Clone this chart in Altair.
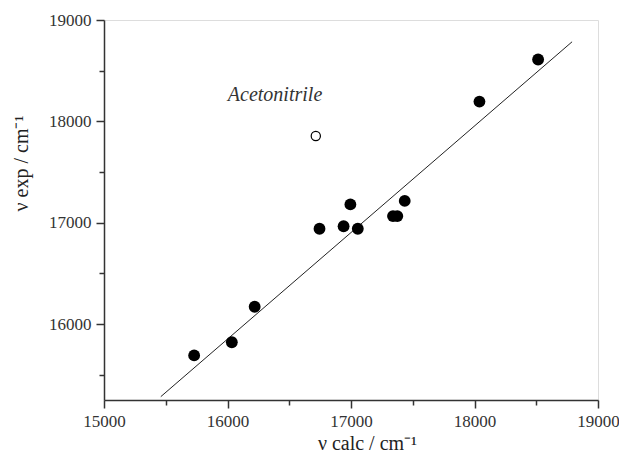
import altair as alt
import pandas as pd

# Filled points: calculated vs experimental wavenumbers
calc = [15730, 16035, 16220, 16745, 16940, 16995, 17055, 17340, 17375, 17435, 18040, 18515]
expv = [15690, 15820, 16170, 16940, 16965, 17180, 16940, 17065, 17065, 17215, 18195, 18610]

# Outlier (open circle)
acn_calc = [16715]
acn_exp = [17855]

# Fit line endpoints
fit_x = [15460, 18790]
fit_y = [15283, 18785]

label_text = ["Acetonitrile"]
label_x = [16385]
label_y = [18258]

x_ticks = [15000, 15500, 16000, 16500, 17000, 17500, 18000, 18500, 19000]
y_ticks = [15500, 16000, 16500, 17000, 17500, 18000, 18500, 19000]

FONT = "Liberation Serif"
AX = "#333333"

df = pd.DataFrame({"x": calc, "y": expv})
df_o = pd.DataFrame({"x": acn_calc, "y": acn_exp})
df_l = pd.DataFrame({"x": fit_x, "y": fit_y})
df_t = pd.DataFrame({"x": label_x, "y": label_y, "t": label_text})

major = "datum.value % 1000 === 0"

xs = alt.Scale(domain=[15000, 19000], nice=False, zero=False)
ys = alt.Scale(domain=[15250, 19000], nice=False, zero=False)

common = dict(
    format="d",
    labelExpr="datum.value % 1000 === 0 ? datum.label : ''",
    tickSize=alt.condition(major, alt.value(8), alt.value(5)),
    grid=False, domainColor=AX, domainWidth=1.5, tickColor=AX, tickWidth=1.5,
    labelFont=FONT, labelFontSize=17, labelColor=AX, labelPadding=5,
    labelFlush=False, labelOverlap=False,
    titleFont=FONT, titleFontSize=20, titleFontWeight="normal",
    titleColor="#222222", titleAlign="center",
)
xaxis = alt.Axis(values=x_ticks, title="ν calc / cm⁻¹", titleX=263, titleY=49,
                 titleBaseline="alphabetic", **common)
yaxis = alt.Axis(values=y_ticks, title="ν exp / cm⁻¹", titleX=-83, titleY=143, titleAngle=270,
                 titleBaseline="middle", **common)

X = alt.X("x:Q", scale=xs, axis=xaxis)
Y = alt.Y("y:Q", scale=ys, axis=yaxis)

line = alt.Chart(df_l).mark_line(color="#222222", strokeWidth=1).encode(x=X, y=Y)
pts = alt.Chart(df).mark_point(filled=True, color="black", size=140, opacity=1, shape="circle").encode(x=X, y=Y)
opn = alt.Chart(df_o).mark_point(filled=False, color="black", size=85, strokeWidth=1.2, opacity=1, shape="circle").encode(x=X, y=Y)
txt = alt.Chart(df_t).mark_text(font=FONT, fontSize=20, fontStyle="italic", color="#333333").encode(x=X, y=Y, text="t:N")

chart = alt.layer(line, pts, opn, txt).properties(
    width=494, height=380,
    autosize=alt.AutoSizeParams(type="none"),
    padding={"left": 96, "top": 12, "right": 21, "bottom": 54},
).configure_view(stroke=AX, strokeWidth=1.5).configure_axis(
    labelFont=FONT, labelFontSize=17, titleFont=FONT
).configure(background="white")

chart.save("out.html", embed_options={"renderer": "svg", "actions": False})
